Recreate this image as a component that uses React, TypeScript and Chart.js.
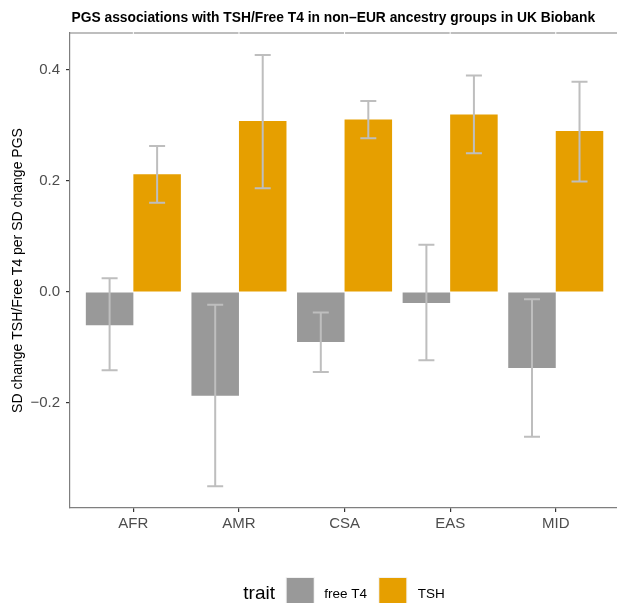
import { useEffect, useRef } from "react";
import { Chart, registerables } from "chart.js";
Chart.register(...registerables);

const categories = ["AFR", "AMR", "CSA", "EAS", "MID"];
const freeT4Values = [-0.06, -0.187, -0.09, -0.02, -0.137];
const freeT4Lower = [-0.141, -0.35, -0.144, -0.123, -0.261];
const freeT4Upper = [0.025, -0.023, -0.037, 0.085, -0.013];
const tshValues = [0.212, 0.308, 0.311, 0.32, 0.29];
const tshLower = [0.161, 0.187, 0.277, 0.25, 0.199];
const tshUpper = [0.263, 0.427, 0.344, 0.39, 0.379];
const yTicks = [-0.2, 0, 0.2, 0.4];
const seriesNames = ["free T4", "TSH"];
const seriesColors = ["#999999", "#E69F00"];
const titleText = "PGS associations with TSH/Free T4 in non\u2013EUR ancestry groups in UK Biobank";
const yTitle = "SD change TSH/Free T4 per SD change PGS";
const legendTitle = "trait";

const FONT = "'Liberation Sans', Arial, Helvetica, sans-serif";

const errorRanges = [
  [freeT4Lower, freeT4Upper],
  [tshLower, tshUpper],
];

const errorBarPlugin = {
  id: "errorBars",
  afterDatasetsDraw(chart: any) {
    const ctx = chart.ctx;
    const yScale = chart.scales.y;
    ctx.save();
    ctx.strokeStyle = "#bebebe";
    ctx.lineWidth = 2;
    chart.data.datasets.forEach((_: any, di: number) => {
      const meta = chart.getDatasetMeta(di);
      const [lo, hi] = errorRanges[di];
      meta.data.forEach((el: any, i: number) => {
        const x = el.x;
        const y1 = yScale.getPixelForValue(lo[i]);
        const y2 = yScale.getPixelForValue(hi[i]);
        const cap = 8;
        ctx.beginPath();
        ctx.moveTo(x, y1);
        ctx.lineTo(x, y2);
        ctx.moveTo(x - cap, y1);
        ctx.lineTo(x + cap, y1);
        ctx.moveTo(x - cap, y2);
        ctx.lineTo(x + cap, y2);
        ctx.stroke();
      });
    });
    ctx.restore();
  },
};

const decorPlugin = {
  id: "decor",
  afterDraw(chart: any) {
    const ctx = chart.ctx;
    const { left, right, top } = chart.chartArea;
    const xScale = chart.scales.x;
    ctx.save();
    ctx.strokeStyle = "#7f7f7f";
    ctx.lineWidth = 1.2;
    ctx.beginPath();
    ctx.moveTo(left, top);
    ctx.lineTo(right, top);
    ctx.stroke();
    ctx.fillStyle = "#ffffff";
    categories.forEach((_, i) => {
      const px = xScale.getPixelForValue(i);
      ctx.fillRect(px - 0.5, top - 1, 1, 2);
    });
    ctx.fillStyle = "#000000";
    ctx.font = `bold 13.8px ${FONT}`;
    ctx.textAlign = "left";
    ctx.textBaseline = "alphabetic";
    ctx.fillText(titleText, left + 1.5, 21.5);
    ctx.font = `19px ${FONT}`;
    ctx.fillText(legendTitle, 243.3, 599);
    const items = [
      { x: 285.7, tx: 324.3 },
      { x: 378.3, tx: 417.7 },
    ];
    items.forEach((it, i) => {
      ctx.fillStyle = "#f2f2f2";
      ctx.fillRect(it.x, 577, 29, 30);
      ctx.fillStyle = seriesColors[i];
      ctx.fillRect(it.x + 1, 578, 27, 28);
      ctx.fillStyle = "#000000";
      ctx.font = `13.5px ${FONT}`;
      ctx.fillText(seriesNames[i], it.tx, 598);
    });
    ctx.restore();
  },
};

export default function App() {
  const ref = useRef<HTMLCanvasElement>(null);
  useEffect(() => {
    if (!ref.current) return;
    const chart = new Chart(ref.current, {
      type: "bar",
      data: {
        datasets: [
          {
            label: seriesNames[0],
            data: freeT4Values.map((v, i) => ({ x: i, y: v })),
            backgroundColor: seriesColors[0],
          },
          {
            label: seriesNames[1],
            data: tshValues.map((v, i) => ({ x: i, y: v })),
            backgroundColor: seriesColors[1],
          },
        ],
      },
      options: {
        animation: false,
        responsive: false,
        devicePixelRatio: 1,
        categoryPercentage: 0.9,
        barPercentage: 1,
        layout: { padding: { top: 33, right: 0, left: 0, bottom: 0 } },
        plugins: {
          legend: { display: false },
          title: { display: false },
          tooltip: { enabled: false },
        },
        scales: {
          x: {
            type: "linear",
            offset: false,
            min: -0.6,
            max: 4.58,
            afterBuildTicks: (scale: any) => {
              scale.ticks = categories.map((_, i) => ({ value: i }));
            },
            afterFit: (scale: any) => {
              scale.height = 95;
            },
            grid: { offset: false, drawOnChartArea: false, drawTicks: true, tickLength: 4, color: "#333333", lineWidth: 1.2 },
            border: { display: true, color: "#7f7f7f", width: 1.2 },
            ticks: {
              padding: 3,
              color: "#4d4d4d",
              font: { family: FONT, size: 15 },
              maxRotation: 0,
              autoSkip: false,
              callback: (v: any) => categories[Math.round(Number(v))] ?? "",
            },
          },
          y: {
            type: "linear",
            min: -0.3892,
            max: 0.4667,
            afterBuildTicks: (scale: any) => {
              scale.ticks = yTicks.map((v) => ({ value: v }));
            },
            afterFit: (scale: any) => {
              scale.width = 70;
            },
            grid: { drawOnChartArea: false, drawTicks: true, tickLength: 4, color: "#333333", lineWidth: 1.2 },
            border: { display: true, color: "#7f7f7f", width: 1.2 },
            ticks: {
              padding: 6,
              color: "#4d4d4d",
              font: { family: FONT, size: 15 },
              callback: (v: any) => Number(v).toFixed(1).replace("-", "\u2212"),
            },
            title: {
              display: true,
              text: yTitle,
              color: "#000000",
              font: { family: FONT, size: 14 },
              padding: { top: 10, bottom: 0 },
            },
          },
        },
      },
      plugins: [errorBarPlugin, decorPlugin],
    } as any);
    return () => chart.destroy();
  }, []);
  return (
    <div style={{ position: "absolute", left: 0, top: 0, width: 617, height: 603, background: "#ffffff" }}>
      <canvas ref={ref} width={617} height={603} />
    </div>
  );
}
